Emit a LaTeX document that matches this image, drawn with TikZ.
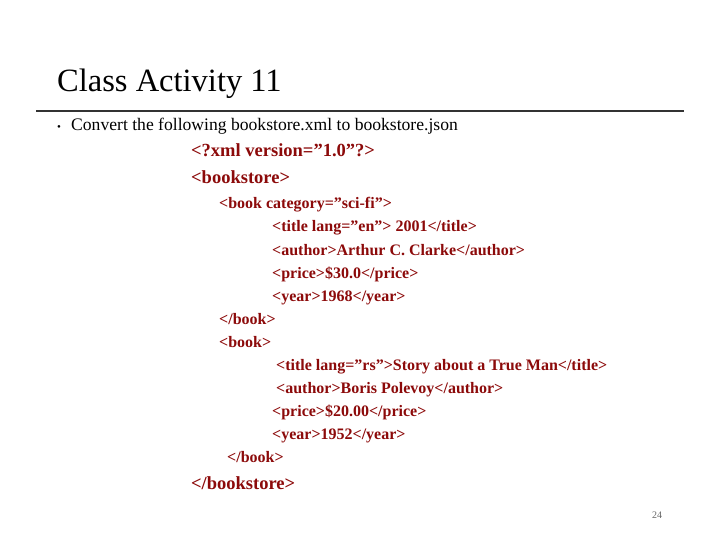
\documentclass[tikz,border=0pt]{standalone}
\usepackage{fontspec}
\setmainfont{Liberation Serif}[Ligatures=ResetAll]
\definecolor{xr}{RGB}{140,10,10}
\begin{document}
\begin{tikzpicture}[x=1pt,y=-1pt,
  t/.style={anchor=base west,inner sep=0pt,text=xr,font=\fontsize{16}{18}\bfseries\selectfont},
  big/.style={anchor=base west,inner sep=0pt,text=xr,font=\fontsize{18.5}{20}\bfseries\selectfont}]
\useasboundingbox (0,0) rectangle (720,540);
\node[anchor=base west,inner sep=0pt,font=\fontsize{32.5}{34}\selectfont] (title) at (57,92) {Class Activity 11};
\coordinate (l1) at (36,111); \coordinate (l2) at (684,111);
\draw[line width=1.2pt,black!80] (l1) -- (l2);
\node[anchor=base west,inner sep=0pt,font=\fontsize{11}{12}\selectfont] (bul) at (57,131) {•};
\node[anchor=base west,inner sep=0pt,font=\fontsize{17.6}{19}\selectfont] (b1) at (71,131) {Convert the following bookstore.xml to bookstore.json};
\node[big] (x1) at (191,157) {<?xml version="1.0"?>};
\node[big] (x2) at (191,184) {<bookstore>};
\node[t] (a1) at (219,209) {<book category="sci-fi">};
\node[t] (a2) at (272,232) {<title lang="en"> 2001</title>};
\node[t] (a3) at (272,255) {<author>Arthur C. Clarke</author>};
\node[t] (a4) at (272,278) {<price>\$30.0</price>};
\node[t] (a5) at (272,301) {<year>1968</year>};
\node[t] (a6) at (219,324) {</book>};
\node[t] (a7) at (219,347) {<book>};
\node[t] (a8) at (276,370) {<title lang="rs">Story about a True Man</title>};
\node[t] (a9) at (276,393) {<author>Boris Polevoy</author>};
\node[t] (a10) at (272,416) {<price>\$20.00</price>};
\node[t] (a11) at (272,439) {<year>1952</year>};
\node[t] (a12) at (227,462) {</book>};
\node[big] (x3) at (191,489) {</bookstore>};
\node[anchor=base west,inner sep=0pt,font=\fontsize{10}{11}\selectfont,text=black!60] (pg) at (652,518) {24};
\end{tikzpicture}
\end{document}
